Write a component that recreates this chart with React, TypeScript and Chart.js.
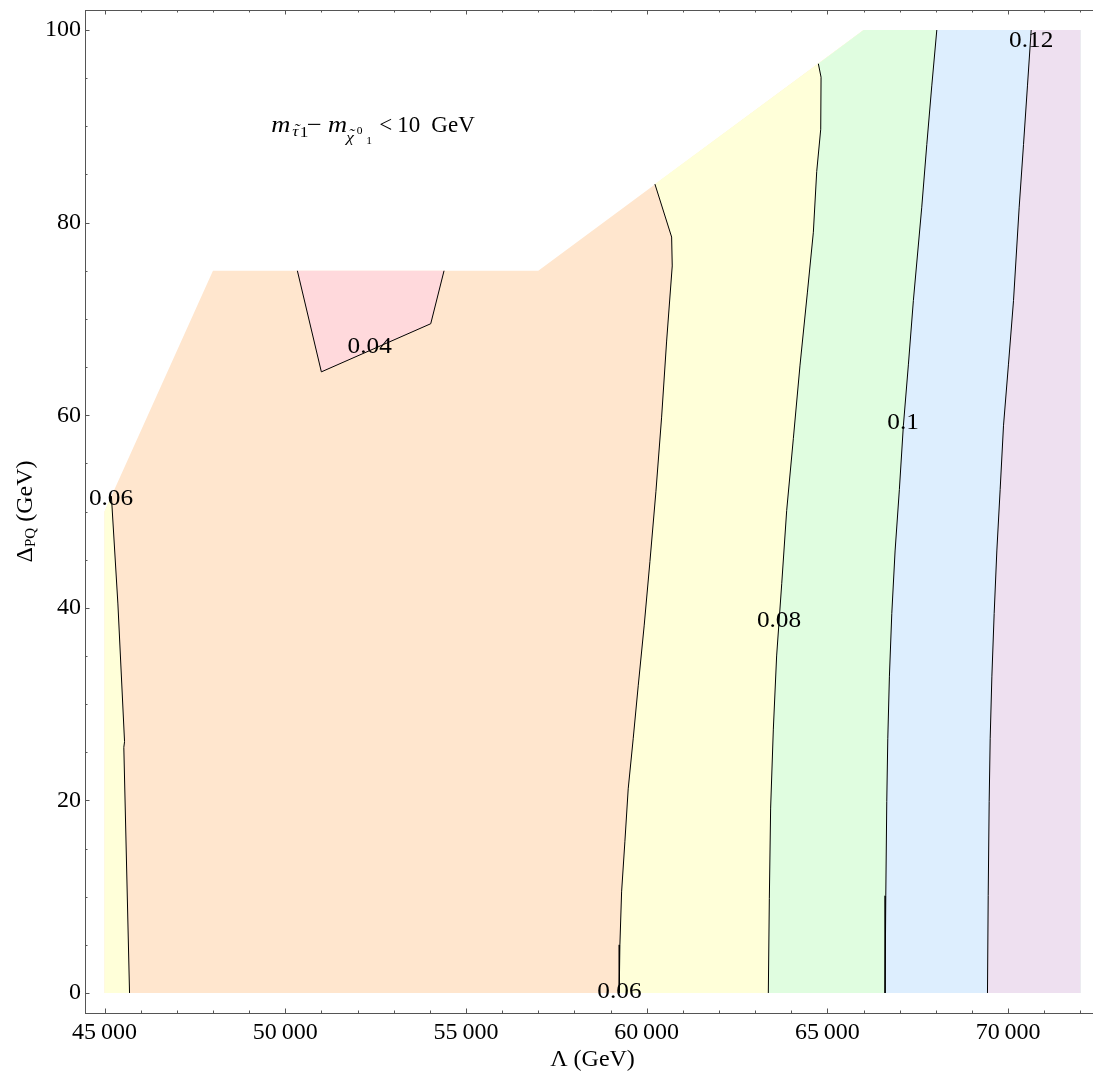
import React, { useEffect, useRef } from 'react';
import { Chart, registerables } from 'chart.js';

Chart.register(...registerables);

type Pt = [number, number];

// ---------- data ----------
// outline of the computed region, clockwise from the bottom-left corner
const domainBoundary: Pt[] = [
  [45000, 0], [45000, 50], [48000, 75], [57000, 75], [66000, 100], [72000, 100], [72000, 0],
];

// contour lines, each listed from its top end downwards
const contour004: Pt[] = [[50335, 75], [50999, 64.5], [54025, 69.5], [54393, 75]];
const contour006Left: Pt[] = [[45190, 51.6], [45370, 40.4], [45554, 26.1], [45534, 25.5], [45692, 0]];
const contour006Mid: Pt[] = [
  [60227, 84.0], [60689, 78.5], [60706, 75.5], [60551, 67.7], [60412, 59.8], [60255, 52.1],
  [60089, 44.8], [59931, 38.2], [59765, 31.9], [59626, 26.4], [59488, 21.2], [59396, 15.7],
  [59305, 10.5], [59258, 5.0], [59239, 0],
];
const contour008: Pt[] = [
  [64748, 96.5], [64823, 95.1], [64814, 89.7], [64703, 85.3], [64610, 79.0], [64444, 72.7],
  [64241, 65.2], [64057, 57.6], [63872, 50.1], [63735, 42.5], [63594, 35.0], [63503, 27.4],
  [63428, 19.2], [63392, 9.8], [63364, 0],
];
const contour010: Pt[] = [
  [68025, 100], [67886, 94.2], [67748, 88.1], [67609, 81.6], [67377, 71.9], [67240, 65.3],
  [67100, 58.9], [66990, 52.3], [66871, 45.9], [66780, 39.4], [66714, 32.9], [66669, 26.4],
  [66641, 19.9], [66614, 10.1], [66594, 0],
];
const contour012: Pt[] = [
  [70636, 100], [70533, 94.2], [70424, 88.1], [70304, 81.6], [70147, 71.9], [70008, 65.3],
  [69870, 58.9], [69778, 52.3], [69686, 45.9], [69612, 39.4], [69549, 32.9], [69502, 26.4],
  [69474, 19.9], [69447, 10.1], [69427, 0],
];

const contourLabelText = ['0.04', '0.06', '0.06', '0.08', '0.1', '0.12'];
const contourLabelX = [52337, 45180, 59244, 63660, 67093, 70637];
const contourLabelY = [67.1, 51.3, 0.1, 38.6, 59.2, 98.9];

const xTickValues = [45000, 50000, 55000, 60000, 65000, 70000];
const xTickLabels = ['45\u2009000', '50\u2009000', '55\u2009000', '60\u2009000', '65\u2009000', '70\u2009000'];
const yTickValues = [0, 20, 40, 60, 80, 100];
const yTickLabels = ['0', '20', '40', '60', '80', '100'];

const annotationX = 49615;
const annotationY = 89.4;

// ---------- styling ----------
const X_MIN = 44460, X_MAX = 72540, Y_MIN = -2.08, Y_MAX = 102.08;
const SERIF = '"Liberation Serif", "Times New Roman", serif';
const AXIS_COLOR = '#555555';
const C_PINK = '#FFD9DC';
const C_PEACH = '#FFE6CE';
const C_YELLOW = '#FFFFD9';
const C_GREEN = '#E0FDE0';
const C_BLUE = '#DDEEFE';
const C_PURPLE = '#EEE0F0';

const toXY = (pts: Pt[]) => pts.map(([x, y]) => ({ x, y }));
const closePoly = (pts: Pt[]): Pt[] => [...pts, pts[0]];
function rightOf(contour: Pt[]): Pt[] {
  const topX = contour[0][0];
  const rest = domainBoundary.filter(([x]) => x > topX).reverse();
  return closePoly([...contour, ...rest]);
}
function leftOf(contour: Pt[]): Pt[] {
  const topX = contour[0][0];
  const rest = domainBoundary.filter(([x]) => x < topX).reverse();
  return closePoly([...contour.slice().reverse(), ...rest]);
}

const fillSet = (pts: Pt[], color: string, order: number) => ({
  data: toXY(pts),
  borderWidth: 0,
  borderColor: color,
  backgroundColor: color,
  fill: 'shape',
  pointRadius: 0,
  tension: 0,
  order,
});
const lineSet = (pts: Pt[]) => ({
  data: toXY(pts),
  borderWidth: 1,
  borderColor: '#000000',
  backgroundColor: '#000000',
  fill: false,
  pointRadius: 0,
  tension: 0,
  order: 0,
});

const overlayPlugin = {
  id: 'overlay',
  afterDraw(chart: any) {
    const { ctx, chartArea } = chart;
    const xs = chart.scales.x;
    const ys = chart.scales.y;
    ctx.save();

    // top frame line
    ctx.strokeStyle = AXIS_COLOR;
    ctx.lineWidth = 1;
    ctx.beginPath();
    ctx.moveTo(chartArea.left, chartArea.top + 0.5);
    ctx.lineTo(chartArea.right, chartArea.top + 0.5);
    ctx.stroke();

    // tick marks (inside the frame)
    const MAJOR = 4.5, MINOR = 2.5;
    ctx.beginPath();
    for (let v = 45000; v <= 72000; v += 1000) {
      const px = Math.round(xs.getPixelForValue(v)) + 0.5;
      const len = xTickValues.includes(v) ? MAJOR : MINOR;
      ctx.moveTo(px, chartArea.bottom);
      ctx.lineTo(px, chartArea.bottom - len);
      ctx.moveTo(px, chartArea.top);
      ctx.lineTo(px, chartArea.top + len);
    }
    for (let v = 0; v <= 100; v += 5) {
      const py = Math.round(ys.getPixelForValue(v)) + 0.5;
      const len = yTickValues.includes(v) ? MAJOR : MINOR;
      ctx.moveTo(chartArea.left, py);
      ctx.lineTo(chartArea.left + len, py);
    }
    ctx.stroke();

    // contour labels (slightly wide lettering, as in the reference)
    ctx.fillStyle = '#000';
    ctx.font = `23px ${SERIF}`;
    ctx.textAlign = 'center';
    ctx.textBaseline = 'middle';
    contourLabelText.forEach((t, i) => {
      ctx.save();
      ctx.translate(xs.getPixelForValue(contourLabelX[i]), ys.getPixelForValue(contourLabelY[i]));
      ctx.scale(1.1, 1);
      ctx.fillText(t, 0, 0);
      ctx.restore();
    });

    // annotation m_tau1 - m_chi01 < 10 GeV
    const ax = xs.getPixelForValue(annotationX);
    const ay = ys.getPixelForValue(annotationY);
    const big = `23px ${SERIF}`;
    const bigIt = `italic 23px ${SERIF}`;
    const midIt = `italic 15px ${SERIF}`;
    const mid = `15px ${SERIF}`;
    const small = `10px ${SERIF}`;
    const S = 1.15;
    ctx.save();
    ctx.translate(ax, ay);
    ctx.scale(S, 1);
    ctx.textAlign = 'left';
    ctx.textBaseline = 'alphabetic';
    const put = (t: string, font: string, dx: number, dy: number) => {
      ctx.font = font;
      ctx.fillText(t, dx / S, dy);
    };
    const tildeOver = (glyph: string, font: string, dx: number, dy: number) => {
      ctx.font = font;
      const gw = ctx.measureText(glyph).width;
      const tw = ctx.measureText('\u02DC').width;
      ctx.fillText('\u02DC', dx / S + (gw - tw) / 2 + 1, dy);
    };
    put('m', bigIt, 0, 0);
    put('\u03C4', midIt, 21, 3.5);
    tildeOver('\u03C4', midIt, 21, 1.5);
    put('1', mid, 28.5, 5);
    put('\u2212', big, 35.5, 0);
    put('m', bigIt, 56.6, 0);
    put('\u03C7', midIt, 75, 9.8);
    tildeOver('\u03C7', midIt, 75, 7);
    put('0', small, 85.5, 1.6);
    put('1', small, 95, 11.6);
    ctx.restore();
    ctx.save();
    ctx.translate(ax, ay);
    ctx.textAlign = 'left';
    ctx.textBaseline = 'alphabetic';
    ctx.font = big;
    ctx.fillText('<', 108, 0);
    ctx.fillText('10', 126, 0);
    ctx.fillText('GeV', 160, 0);
    ctx.restore();

    // y axis title: Delta_PQ (GeV)
    ctx.save();
    ctx.translate(32, (chartArea.top + chartArea.bottom) / 2);
    ctx.rotate(-Math.PI / 2);
    ctx.fillStyle = '#000';
    ctx.textAlign = 'left';
    ctx.textBaseline = 'alphabetic';
    const yBig = `24px ${SERIF}`;
    const ySmall = `15px ${SERIF}`;
    ctx.font = yBig;
    const wD = ctx.measureText('\u0394').width;
    const wG = ctx.measureText(' (GeV)').width;
    ctx.font = ySmall;
    const wPQ = ctx.measureText('PQ').width;
    let x0 = -(wD + wPQ + wG) / 2;
    ctx.font = yBig;
    ctx.fillText('\u0394', x0, 0);
    x0 += wD;
    ctx.font = ySmall;
    ctx.fillText('PQ', x0, 3);
    x0 += wPQ;
    ctx.font = yBig;
    ctx.fillText(' (GeV)', x0, 0);
    ctx.restore();

    ctx.restore();
  },
};

export default function App() {
  const canvasRef = useRef<HTMLCanvasElement | null>(null);

  useEffect(() => {
    const canvas = canvasRef.current;
    if (!canvas) return;

    const datasets: any[] = [
      lineSet(contour004),
      lineSet(contour006Left),
      lineSet(contour006Mid),
      lineSet(contour008),
      lineSet(contour010),
      lineSet(contour012),
      fillSet(closePoly(contour004), C_PINK, 4),
      fillSet(rightOf(contour012), C_PURPLE, 5),
      fillSet(rightOf(contour010), C_BLUE, 6),
      fillSet(rightOf(contour008), C_GREEN, 7),
      fillSet(rightOf(contour006Mid), C_YELLOW, 8),
      fillSet(leftOf(contour006Left), C_YELLOW, 9),
      fillSet(closePoly(domainBoundary), C_PEACH, 10),
    ];

    const tickFont = { family: SERIF, size: 24, lineHeight: 1.2 };

    const chart = new Chart(canvas, {
      type: 'line',
      data: { datasets },
      options: {
        responsive: false,
        animation: false,
        devicePixelRatio: 1,
        events: [],
        layout: { padding: { top: 10, left: 0, right: 0, bottom: 0 } },
        plugins: {
          legend: { display: false },
          tooltip: { enabled: false },
          title: { display: false },
        },
        scales: {
          x: {
            type: 'linear',
            position: 'bottom',
            min: X_MIN,
            max: X_MAX,
            grid: { display: false, drawTicks: false },
            border: { display: true, color: AXIS_COLOR, width: 1 },
            afterBuildTicks: (s: any) => {
              s.ticks = xTickValues.map((v) => ({ value: v }));
            },
            ticks: {
              autoSkip: false,
              maxRotation: 0,
              minRotation: 0,
              padding: 5,
              color: '#000',
              font: tickFont,
              callback: (v: any) => {
                const i = xTickValues.indexOf(Number(v));
                return i >= 0 ? xTickLabels[i] : '';
              },
            },
            title: {
              display: true,
              text: '\u039B (GeV)',
              color: '#000',
              font: { family: SERIF, size: 24, lineHeight: 1.2 },
              padding: { top: 0, bottom: 0 },
            },
            afterFit: (s: any) => {
              s.height = 61;
              s.paddingLeft = 0;
              s.paddingRight = 0;
            },
          },
          y: {
            type: 'linear',
            position: 'left',
            min: Y_MIN,
            max: Y_MAX,
            grid: { display: false, drawTicks: false },
            border: { display: true, color: AXIS_COLOR, width: 1 },
            afterBuildTicks: (s: any) => {
              s.ticks = yTickValues.map((v) => ({ value: v }));
            },
            ticks: {
              autoSkip: false,
              padding: 4,
              color: '#000',
              font: tickFont,
              callback: (v: any) => {
                const i = yTickValues.indexOf(Number(v));
                return i >= 0 ? yTickLabels[i] : '';
              },
            },
            afterFit: (s: any) => {
              s.width = 85;
              s.paddingTop = 0;
              s.paddingBottom = 0;
            },
          },
        },
      } as any,
      plugins: [overlayPlugin],
    });

    return () => chart.destroy();
  }, []);

  return (
    <div
      style={{
        position: 'fixed',
        left: 0,
        top: 0,
        width: 1093,
        height: 1074,
        overflow: 'hidden',
        background: '#ffffff',
      }}
    >
      <canvas ref={canvasRef} width={1100} height={1074} style={{ display: 'block' }} />
    </div>
  );
}
